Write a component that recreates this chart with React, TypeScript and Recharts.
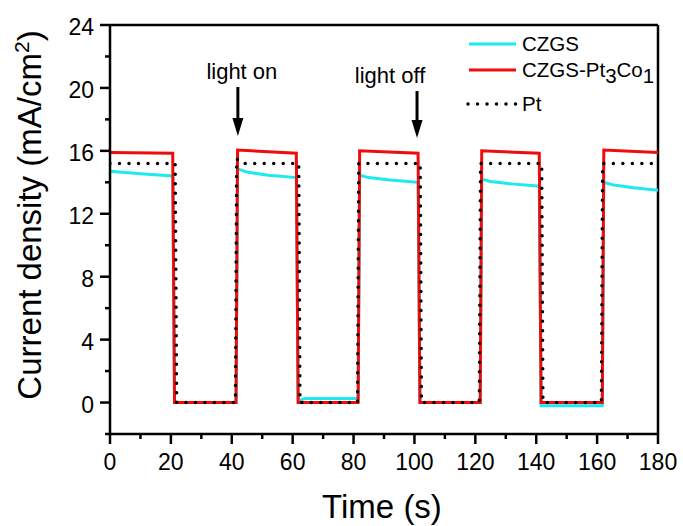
import { LineChart, Line, XAxis, YAxis, ReferenceLine } from "recharts";

const xTicks = [0, 10, 20, 30, 40, 50, 60, 70, 80, 90, 100, 110, 120, 130, 140, 150, 160, 170, 180];
const yTicks = [-2, 0, 2, 4, 6, 8, 10, 12, 14, 16, 18, 20, 22, 24];

// CZGS (cyan) – photocurrent decays slowly during each light-on period
const czgsTime = [0, 10, 20.6, 21.2, 41.4, 41.9, 45, 52, 61.2, 61.8, 64, 81.5, 82.0, 85, 92, 101.2, 101.8, 121.6, 122.1, 125, 132, 141.0, 141.6, 161.7, 162.2, 165, 172, 180];
const czgsCurrent = [14.7, 14.55, 14.4, 0, 0, 14.85, 14.65, 14.45, 14.3, 0.1, 0.25, 0.25, 14.45, 14.3, 14.15, 14.0, 0, 0, 14.2, 14.05, 13.9, 13.75, -0.2, -0.2, 14.0, 13.85, 13.65, 13.5];

// CZGS-Pt3Co1 (red)
const ptcoTime = [0, 20.6, 21.2, 41.4, 41.9, 61.2, 61.8, 81.5, 82.0, 101.2, 101.8, 121.6, 122.1, 141.0, 141.6, 161.7, 162.2, 180];
const ptcoCurrent = [15.9, 15.85, 0, 0, 16.05, 15.85, 0, 0, 16.0, 15.85, 0, 0, 16.0, 15.85, 0, 0, 16.05, 15.9];

// Pt (black dots)
const ptTime = [0, 21.4, 21.9, 41.2, 41.6, 43, 62.0, 62.4, 81.3, 81.7, 101.9, 102.3, 121.3, 121.7, 141.8, 142.2, 161.4, 161.8, 180];
const ptCurrent = [15.2, 15.2, 0, 0, 15.5, 15.2, 15.2, 0, 0, 15.2, 15.2, 0, 0, 15.2, 15.2, 0, 0, 15.2, 15.2];

const zip = (t: number[], v: number[]) => t.map((x, i) => ({ t: x, v: v[i] }));

const FONT = "'Liberation Sans', Arial, sans-serif";

const XTick = (props: any) => {
  const { x, y, payload } = props;
  const major = payload.value % 20 === 0;
  return (
    <g>
      <line x1={x} y1={y} x2={x} y2={y + (major ? 10 : 5)} stroke="#000" strokeWidth={2.5} />
      {major && (
        <text x={x} y={y + 36} textAnchor="middle" fontSize={23} fill="#000" fontFamily={FONT}>
          {payload.value}
        </text>
      )}
    </g>
  );
};

const YTick = (props: any) => {
  const { x, y, payload } = props;
  const major = payload.value % 4 === 0;
  return (
    <g>
      <line x1={x} y1={y} x2={x - (major ? 10 : 5)} y2={y} stroke="#000" strokeWidth={2.5} />
      {major && (
        <text x={x - 16} y={y + 10} textAnchor="end" fontSize={23} fill="#000" fontFamily={FONT}>
          {payload.value}
        </text>
      )}
    </g>
  );
};

// arrow with caption above it, drawn from the reference segment end points
const arrow = (caption: string, dx: number) => (p: any) => {
  const { x1, y1, y2 } = p;
  return (
    <g>
      <line x1={x1} y1={y1} x2={x1} y2={y2 - 14} stroke="#000" strokeWidth={3} />
      <polygon points={`${x1 - 5.5},${y2 - 18} ${x1 + 5.5},${y2 - 18} ${x1},${y2}`} fill="#000" />
      <text x={x1 + dx} y={y1 - 8} textAnchor="middle" fontSize={22} fill="#000" fontFamily={FONT}>
        {caption}
      </text>
    </g>
  );
};

export default function App() {
  return (
    <div style={{ position: "absolute", left: 0, top: 0, width: 683, height: 526, background: "#fff" }}>
      <LineChart width={683} height={526} margin={{ top: 25, right: 25, bottom: 0, left: 0 }}>
        <XAxis
          type="number"
          dataKey="t"
          domain={[0, 180]}
          ticks={xTicks}
          interval={0}
          height={92}
          tickSize={0}
          tickMargin={0}
          tickLine={false}
          tick={<XTick />}
          axisLine={{ stroke: "#000", strokeWidth: 2.5 }}
          allowDataOverflow
        />
        <YAxis
          type="number"
          dataKey="v"
          domain={[-2, 24]}
          ticks={yTicks}
          interval={0}
          width={110}
          tickSize={0}
          tickMargin={0}
          tickLine={false}
          tick={<YTick />}
          axisLine={{ stroke: "#000", strokeWidth: 2.5 }}
          allowDataOverflow
        />
        <ReferenceLine y={24} stroke="#000" strokeWidth={2.5} />
        <ReferenceLine x={180} stroke="#000" strokeWidth={2.5} />
        <Line
          data={zip(czgsTime, czgsCurrent)}
          dataKey="v"
          type="linear"
          stroke="#1de9f0"
          strokeWidth={3}
          dot={false}
          isAnimationActive={false}
        />
        <Line
          data={zip(ptcoTime, ptcoCurrent)}
          dataKey="v"
          type="linear"
          stroke="#f00c0c"
          strokeWidth={3}
          dot={false}
          isAnimationActive={false}
        />
        <Line
          data={zip(ptTime, ptCurrent)}
          dataKey="v"
          type="linear"
          stroke="#000"
          strokeWidth={3.5}
          strokeDasharray="0 9.5"
          strokeLinecap="round"
          dot={false}
          isAnimationActive={false}
        />
        <ReferenceLine segment={[{ x: 42, y: 20.06 }, { x: 42, y: 16.94 }]} shape={arrow("light on", 4)} />
        <ReferenceLine segment={[{ x: 100.85, y: 19.8 }, { x: 100.85, y: 16.82 }]} shape={arrow("light off", -27)} />
      </LineChart>
      <svg width={683} height={526} style={{ position: "absolute", left: 0, top: 0, pointerEvents: "none" }}>
        <g fontFamily={FONT} fill="#000">
          <line x1={469} y1={44} x2={516} y2={44} stroke="#1de9f0" strokeWidth={3} />
          <text x={522} y={51} fontSize={20.5}>CZGS</text>
          <line x1={469} y1={70} x2={516} y2={70} stroke="#f00c0c" strokeWidth={3} />
          <text x={522} y={77} fontSize={20.5}>
            CZGS-Pt<tspan dy={6}>3</tspan>
            <tspan dy={-6}>Co</tspan>
            <tspan dy={6}>1</tspan>
          </text>
          <line x1={468} y1={104} x2={516} y2={104} stroke="#000" strokeWidth={3.5} strokeDasharray="0 9.5" strokeLinecap="round" />
          <text x={522} y={111} fontSize={20.5}>Pt</text>
          <text x={382} y={518} textAnchor="middle" fontSize={33}>Time (s)</text>
          <text x={41} y={215} textAnchor="middle" fontSize={33} transform="rotate(-90 41 215)">
            Current density (mA/cm<tspan dy={-12} fontSize={21}>2</tspan>
            <tspan dy={12}>)</tspan>
          </text>
        </g>
      </svg>
    </div>
  );
}
